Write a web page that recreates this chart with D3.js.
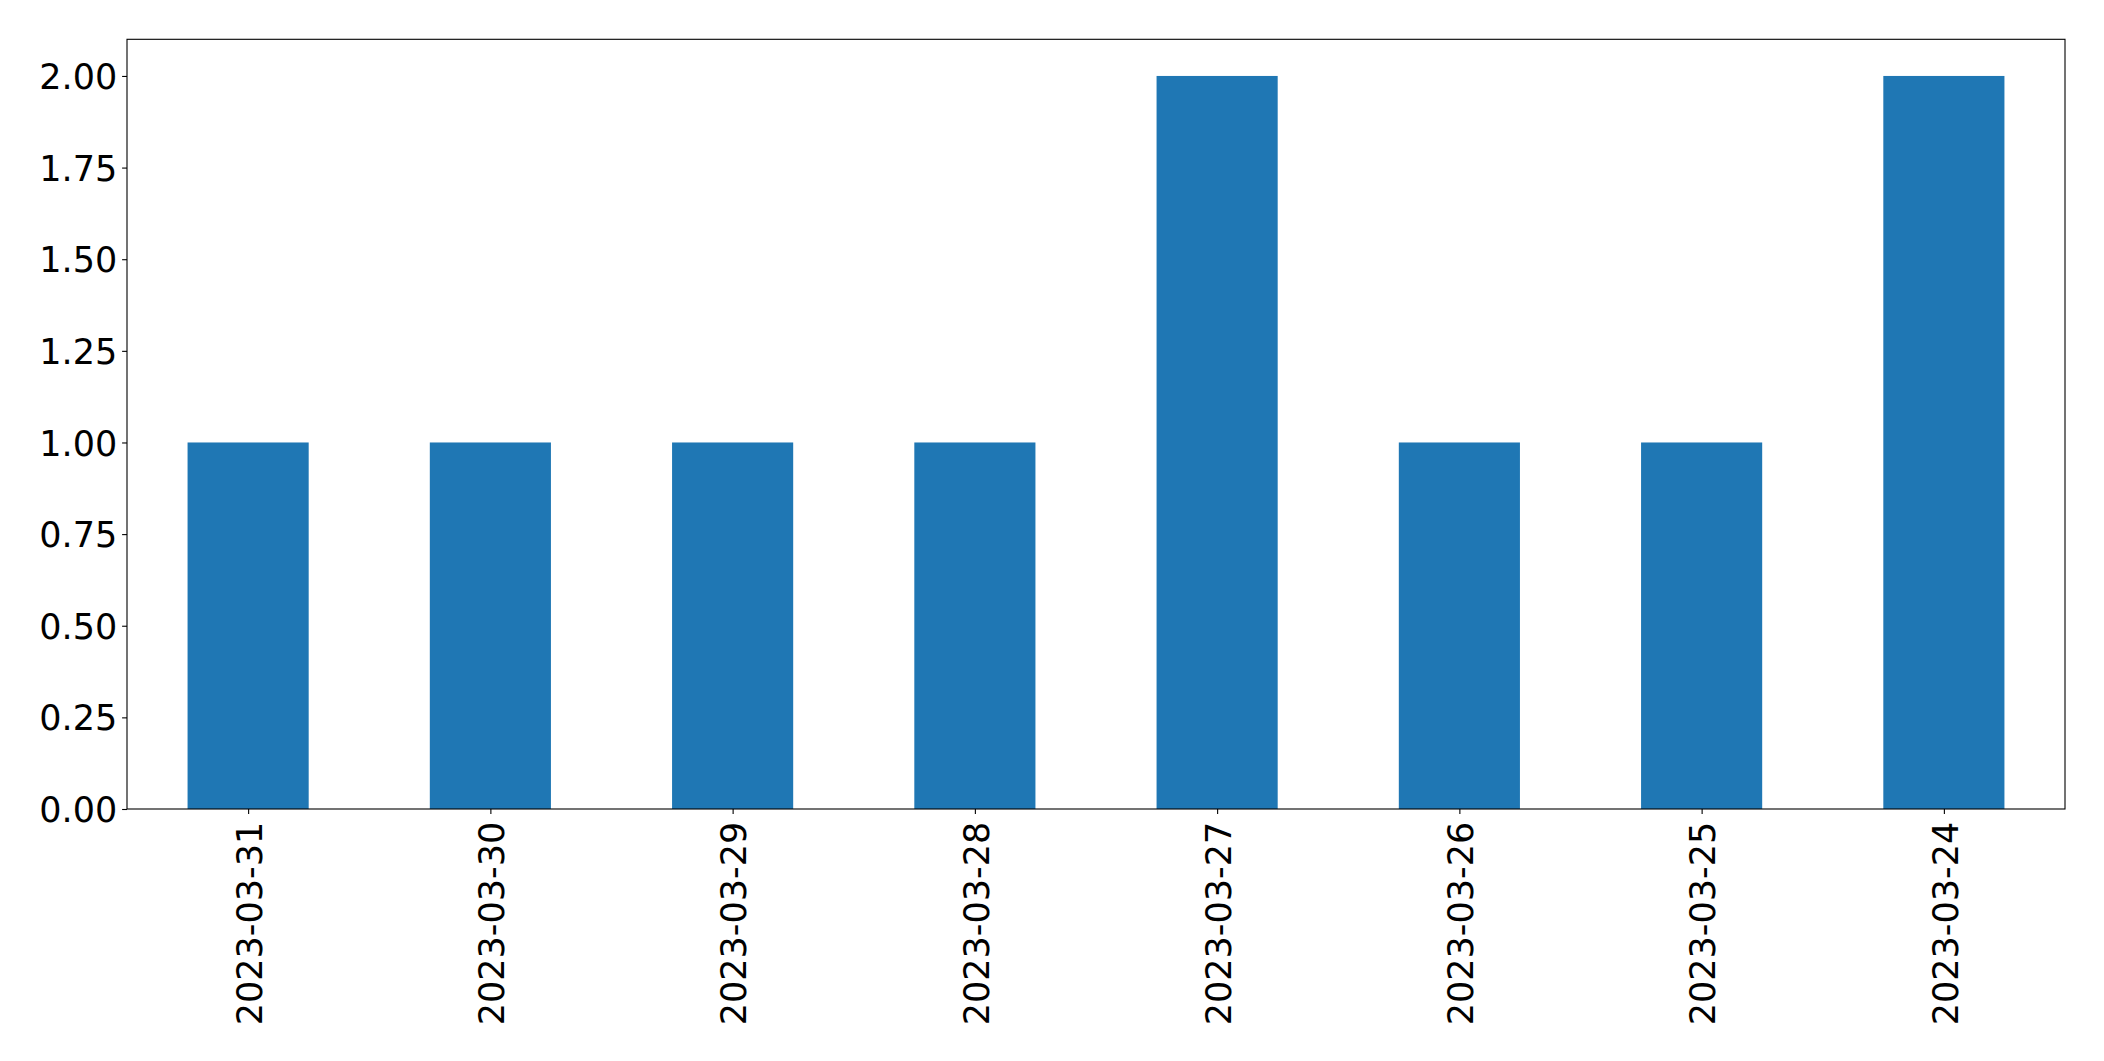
<!DOCTYPE html>
<html><head><meta charset="utf-8">
<script src="https://cdn.jsdelivr.net/npm/d3@7"></script>
<style>body{margin:0;background:#fff}svg{display:block}</style>
</head><body>
<script>
const categories = ["2023-03-31","2023-03-30","2023-03-29","2023-03-28","2023-03-27","2023-03-26","2023-03-25","2023-03-24"];
const values = [1,1,1,1,2,1,1,2];
const yTicks = [0,0.25,0.5,0.75,1.0,1.25,1.5,1.75,2.0];

const W = 2104, H = 1061;
const m = {left:127, right:2065, top:39.3, bottom:809};
const svg = d3.select("body").append("svg").attr("width",W).attr("height",H);
const fontSize = 35;
const font = "'DejaVu Sans', sans-serif";

const x = d3.scaleLinear().domain([-0.5, categories.length-0.5]).range([m.left, m.right]);
const y = d3.scaleLinear().domain([0, 2.1]).range([m.bottom, m.top]);
const bw = x(0.5) - x(0);

svg.append("g").selectAll("rect").data(values).join("rect")
  .attr("x",(d,i)=>x(i)-bw/2).attr("width",bw)
  .attr("y",d=>y(d)).attr("height",d=>y(0)-y(d))
  .attr("fill","#1f77b4");

// frame
svg.append("rect").attr("x",m.left).attr("y",m.top)
  .attr("width",m.right-m.left).attr("height",m.bottom-m.top)
  .attr("fill","none").attr("stroke","#000").attr("stroke-width",1.1);

const yAxis = d3.axisLeft(y).tickValues(yTicks).tickFormat(d3.format(".2f")).tickSize(4.9).tickPadding(4.9);
const gy = svg.append("g").attr("transform",`translate(${m.left},0)`).call(yAxis);
gy.select(".domain").remove();
gy.selectAll("line").attr("stroke","#000").attr("stroke-width",1.1);
gy.selectAll("text").attr("font-family",font).attr("font-size",fontSize).attr("fill","#000").attr("dy","0.36em");

const xAxis = d3.axisBottom(x).tickValues(d3.range(categories.length)).tickFormat(i=>categories[i]).tickSize(4.9).tickPadding(4.9);
const gx = svg.append("g").attr("transform",`translate(0,${m.bottom})`).call(xAxis);
gx.select(".domain").remove();
gx.selectAll("line").attr("stroke","#000").attr("stroke-width",1.1);
gx.selectAll("text").attr("font-family",font).attr("font-size",fontSize).attr("fill","#000")
  .attr("transform","rotate(-90)").attr("text-anchor","end")
  .attr("x",-(4.9+4.9+3)).attr("y",0).attr("dy","0.38em");
</script>
</body></html>
